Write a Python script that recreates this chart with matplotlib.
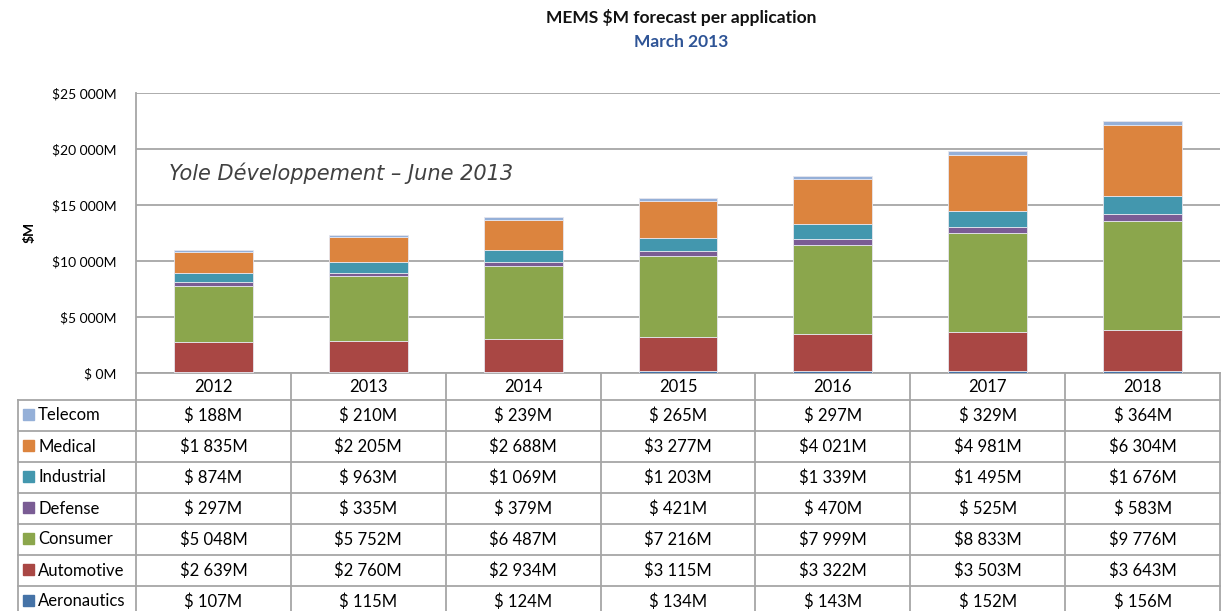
import numpy as np
import matplotlib
matplotlib.use('Agg')
import matplotlib.pyplot as plt

plt.rcParams['text.parse_math'] = False
plt.rcParams['font.family'] = ['Lato', 'DejaVu Sans']

years = ['2012', '2013', '2014', '2015', '2016', '2017', '2018']
# series listed bottom of the stack first
series = ['Aeronautics', 'Automotive', 'Consumer', 'Defense', 'Industrial', 'Medical', 'Telecom']
aeronautics = [107, 115, 124, 134, 143, 152, 156]
automotive = [2639, 2760, 2934, 3115, 3322, 3503, 3643]
consumer = [5048, 5752, 6487, 7216, 7999, 8833, 9776]
defense = [297, 335, 379, 421, 470, 525, 583]
industrial = [874, 963, 1069, 1203, 1339, 1495, 1676]
medical = [1835, 2205, 2688, 3277, 4021, 4981, 6304]
telecom = [188, 210, 239, 265, 297, 329, 364]
yticks = [0, 5000, 10000, 15000, 20000, 25000]
ytick_labels = ['$ 0M', '$5 000M', '$10 000M', '$15 000M', '$20 000M', '$25 000M']

values = [aeronautics, automotive, consumer, defense, industrial, medical, telecom]
colors = ['#4573A7', '#A94744', '#8BA64C', '#7A5C94', '#4397AE', '#DC843E', '#95B0D8']


def fmt(v):
    if v >= 1000:
        return '$%d %03dM' % (v // 1000, v % 1000)
    return '$ %dM' % v


W, H = 1221, 611
fig = plt.figure(figsize=(W / 100, H / 100), dpi=100)
grey = '#A6A6A6'

# main bar area
x0, x1, ytop, ybot = 136, 1220, 93, 373
ax = fig.add_axes([x0 / W, 1 - ybot / H, (x1 - x0) / W, (ybot - ytop) / H])
x = np.arange(len(years))
bottom = np.zeros(len(years))
for name, vals, c in zip(series, values, colors):
    ax.bar(x, vals, width=0.51, bottom=bottom, color=c, edgecolor='#E6E6EE',
           linewidth=0.6, zorder=3)
    bottom += np.array(vals)

ax.set_xlim(-0.5, len(years) - 0.5)
ax.set_ylim(0, 25000)
ax.set_yticks(yticks)
ax.set_yticklabels(ytick_labels, fontsize=10)
ax.set_xticks([])
ax.tick_params(axis='y', length=0, pad=14)
ax.grid(axis='y', color=grey, linewidth=1.3, zorder=0)
for s in ['top', 'right']:
    ax.spines[s].set_visible(False)
for s in ['left', 'bottom']:
    ax.spines[s].set_color(grey)
    ax.spines[s].set_linewidth(1.3)

ax.text(0.03, 0.715, 'Yole Développement – June 2013', transform=ax.transAxes,
        fontsize=15, style='italic', color='#404040', family='DejaVu Sans',
        va='center', ha='left')

fig.text(681 / W, 1 - 18 / H, 'MEMS $M forecast per application', fontsize=12.5,
         weight='bold', ha='center', va='center', color='#111111')
fig.text(681 / W, 1 - 42 / H, 'March 2013', fontsize=12.5, weight='bold',
         ha='center', va='center', color='#2E5496')
fig.text(30 / W, 1 - 232 / H, '$M', fontsize=10, weight='bold', rotation=90,
         ha='center', va='center')

# data table below
t_left, header_h, row_h = 18, 27, 31
n_rows = len(series)
tot_h = header_h + row_h * n_rows
unit = (x1 - x0) / len(years)
left_cat = -0.5 - (x0 - t_left) / unit
axt = fig.add_axes([t_left / W, 1 - (ybot + tot_h) / H, (x1 - t_left) / W, tot_h / H])
axt.set_xlim(left_cat, len(years) - 0.5)
axt.set_ylim(tot_h, 0)
axt.axis('off')

lk = dict(color=grey, linewidth=1.3, clip_on=False)
for k in range(len(years) + 1):
    axt.plot([k - 0.5, k - 0.5], [0, tot_h], **lk)
axt.plot([left_cat, left_cat], [header_h, tot_h], **lk)
for r in range(n_rows + 1):
    yy = header_h + r * row_h
    axt.plot([left_cat, len(years) - 0.5], [yy, yy], **lk)

for i, yr in enumerate(years):
    axt.text(i, header_h / 2 + 1, yr, ha='center', va='center', fontsize=12)

for r, idx in enumerate(range(n_rows - 1, -1, -1)):
    yc = header_h + r * row_h + row_h / 2
    axt.add_patch(plt.Rectangle((left_cat + 5 / unit, yc - 7), 11 / unit, 11,
                                color=colors[idx], clip_on=False))
    axt.text(left_cat + 20 / unit, yc, series[idx], ha='left', va='center', fontsize=12)
    for i in range(len(years)):
        axt.text(i, yc, fmt(values[idx][i]), ha='center', va='center', fontsize=12)

fig.savefig('out.png', dpi=100)
